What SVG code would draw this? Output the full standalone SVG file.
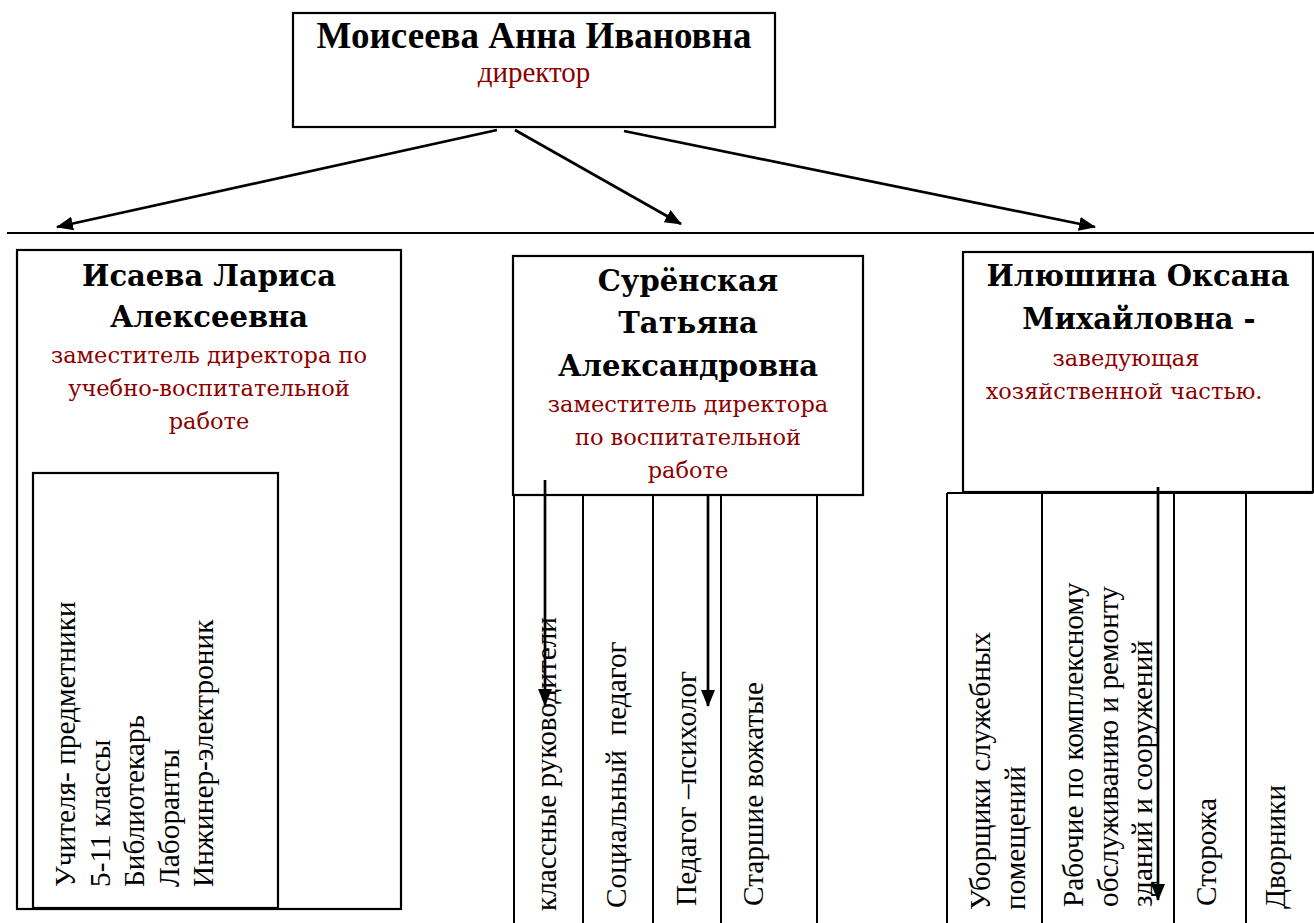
<svg xmlns="http://www.w3.org/2000/svg" width="1314" height="923" viewBox="0 0 1314 923">
<style>
.box{fill:#fff;stroke:#000;stroke-width:2.2}
.ln{fill:none;stroke:#000;stroke-width:2}
.arr{fill:none;stroke:#000;stroke-width:2.7}
.title{font-family:"Liberation Serif","Times New Roman",serif;font-weight:bold;font-size:37px;fill:#000}
.dir{font-family:"Liberation Serif","Times New Roman",serif;font-size:29px;fill:#8b0000}
.name{font-family:"DejaVu Serif",serif;font-weight:bold;font-size:29px;fill:#000}
.role{font-family:"DejaVu Serif",serif;font-size:22.5px;fill:#8b0000}
.vt{font-family:"Liberation Serif","Times New Roman",serif;font-size:29.3px;fill:#000;white-space:pre}
</style>
<defs>
<marker id="ah" markerUnits="userSpaceOnUse" markerWidth="18" markerHeight="14" refX="16" refY="7" orient="auto">
<path d="M0,0 L17,7 L0,14 z" fill="#000"/>
</marker>
</defs>

<line class="ln" x1="7" y1="233" x2="1314" y2="233"/>

<g id="director">
<rect class="box" x="293" y="13" width="482" height="114"/>
<text class="title" x="534" y="48" text-anchor="middle">Моисеева Анна Ивановна</text>
<text class="dir" x="534" y="82" text-anchor="middle">директор</text>
</g>

<g id="deputy-study">
<rect class="box" x="17" y="250" width="384" height="659"/>
<text class="name" x="209" y="286" text-anchor="middle">Исаева Лариса</text>
<text class="name" x="209" y="327" text-anchor="middle">Алексеевна</text>
<text class="role" x="209" y="363" text-anchor="middle">заместитель директора по</text>
<text class="role" x="209" y="396" text-anchor="middle">учебно-воспитательной</text>
<text class="role" x="209" y="429" text-anchor="middle">работе</text>
</g>

<g id="study-staff">
<rect class="box" x="33" y="473" width="245" height="435"/>
<text class="vt" transform="translate(75,887) rotate(-90)"><tspan x="0" y="0">Учителя- предметники</tspan><tspan x="0" dy="34.5">5-11 классы</tspan><tspan x="0" dy="34.5">Библиотекарь</tspan><tspan x="0" dy="34.5">Лаборанты</tspan><tspan x="0" dy="34.5">Инжинер-электроник</tspan></text>
</g>

<g id="deputy-upbringing">
<rect class="box" x="513" y="256" width="350" height="239"/>
<text class="name" x="688" y="291" text-anchor="middle">Сурёнская</text>
<text class="name" x="688" y="333" text-anchor="middle">Татьяна</text>
<text class="name" x="688" y="376" text-anchor="middle">Александровна</text>
<text class="role" x="688" y="412" text-anchor="middle">заместитель директора</text>
<text class="role" x="688" y="445" text-anchor="middle">по воспитательной</text>
<text class="role" x="688" y="478" text-anchor="middle">работе</text>
</g>

<g id="upbringing-staff">
<path class="ln" d="M514,495 V923 M583,495 V923 M653,495 V923 M721,495 V923 M817,495 V923"/>
<text class="vt" transform="translate(556,911) rotate(-90)">классные руководители</text>
<text class="vt" transform="translate(626,908) rotate(-90)">Социальный  педагог</text>
<text class="vt" transform="translate(696,906) rotate(-90)">Педагог –психолог</text>
<text class="vt" transform="translate(763,906) rotate(-90)">Старшие вожатые</text>
</g>

<g id="household-head">
<rect class="box" x="963" y="252" width="350" height="240"/>
<text class="name" x="1138" y="286" text-anchor="middle">Илюшина Оксана</text>
<text class="name" x="1139" y="329" text-anchor="middle">Михайловна -</text>
<text class="role" x="1126" y="366" text-anchor="middle">заведующая</text>
<text class="role" x="1124" y="399" text-anchor="middle">хозяйственной частью.</text>
</g>

<g id="household-staff">
<path class="ln" d="M947,493 H1313 M947,493 V923 M1042,493 V923 M1174,493 V923 M1246,493 V923"/>
<text class="vt" transform="translate(990,910) rotate(-90)"><tspan x="0" y="0">Уборщики служебных</tspan><tspan x="0" dy="34.5">помещений</tspan></text>
<text class="vt" transform="translate(1083,907) rotate(-90)"><tspan x="0" y="0">Рабочие по комплексному</tspan><tspan x="0" dy="34.5">обслуживанию и ремонту</tspan><tspan x="0" dy="34.5">зданий и сооружений</tspan></text>
<text class="vt" transform="translate(1216,906) rotate(-90)">Сторожа</text>
<text class="vt" transform="translate(1285,909) rotate(-90)">Дворники</text>
</g>

<g id="connectors">
<line class="arr" x1="497" y1="130" x2="57" y2="227" marker-end="url(#ah)"/>
<line class="arr" x1="515" y1="130" x2="681" y2="224" marker-end="url(#ah)"/>
<line class="arr" x1="624" y1="131" x2="1095" y2="227" marker-end="url(#ah)"/>
<line class="arr" x1="545" y1="480" x2="545" y2="705" marker-end="url(#ah)"/>
<line class="arr" x1="708" y1="496" x2="708" y2="706" marker-end="url(#ah)"/>
<line class="arr" x1="1158" y1="487" x2="1158" y2="900" marker-end="url(#ah)"/>
</g>
</svg>
